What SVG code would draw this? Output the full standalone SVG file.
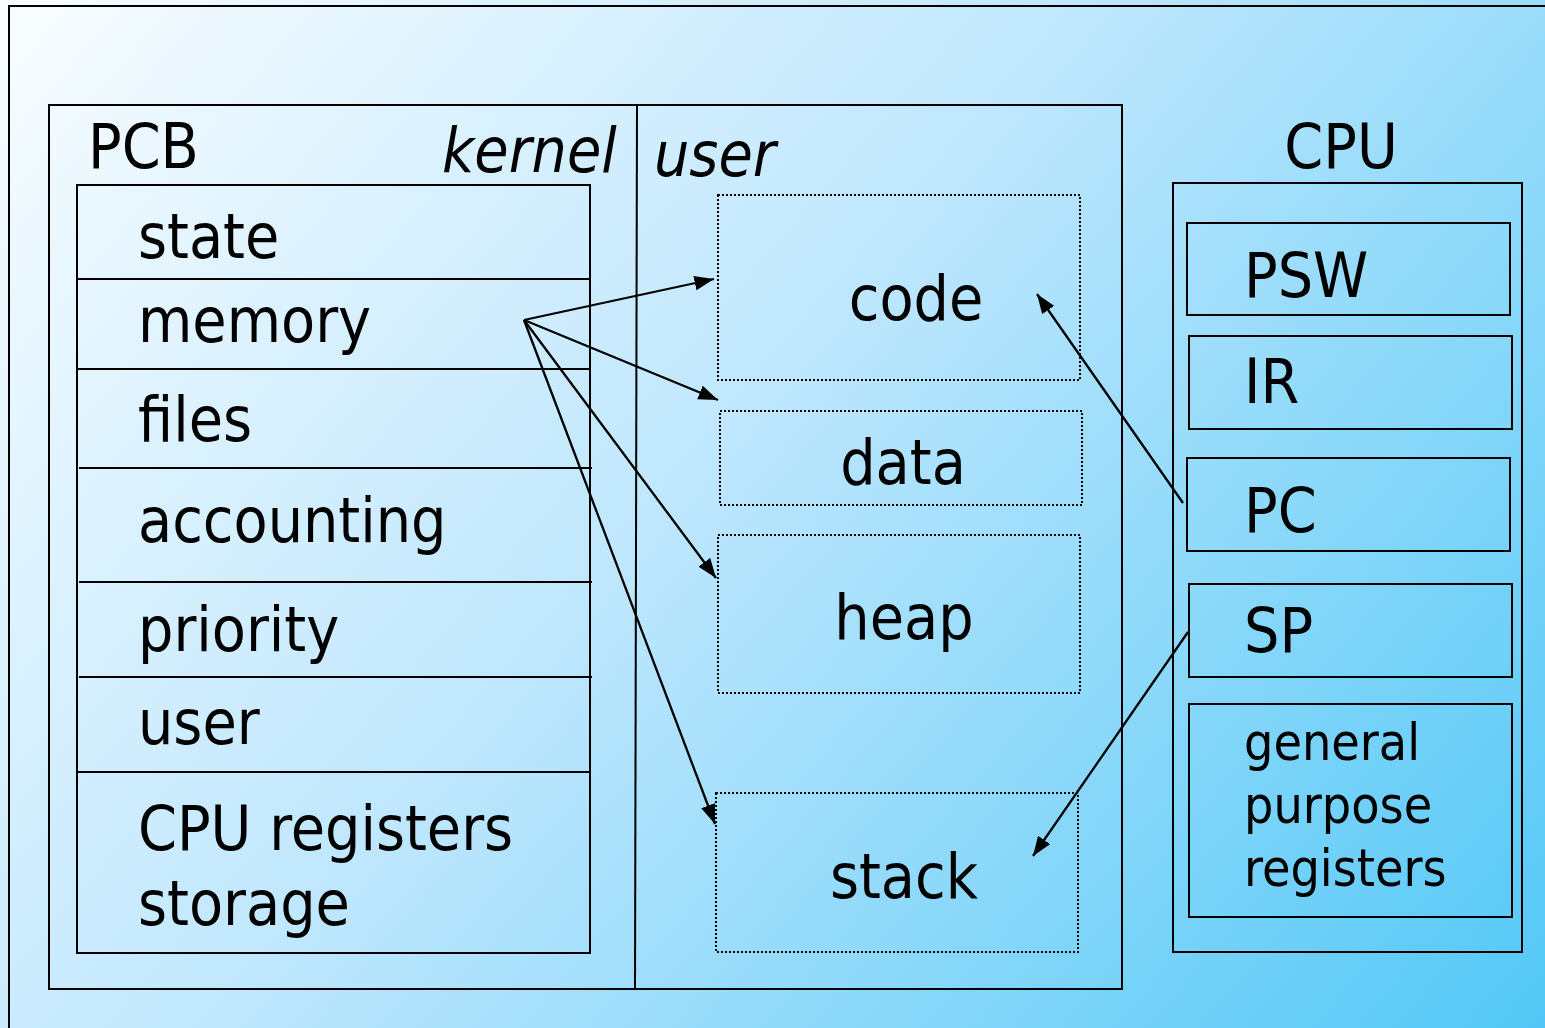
<svg xmlns="http://www.w3.org/2000/svg" width="1545" height="1028" viewBox="0 0 1545 1028">
<defs>
<linearGradient id="bg" gradientUnits="userSpaceOnUse" x1="0" y1="0" x2="1400" y2="1200">
<stop offset="0" stop-color="#f9fdff"/>
<stop offset="0.45" stop-color="#bfe7fd"/>
<stop offset="1" stop-color="#52c8f6"/>
</linearGradient>
<marker id="ah" viewBox="0 0 8 6" refX="8" refY="3" markerWidth="8.5" markerHeight="6.4" orient="auto" markerUnits="strokeWidth">
<path d="M0,0 L8,3 L0,6 z" fill="#000"/>
</marker>
<style>
.box{fill:none;stroke:#000;stroke-width:2}
.dot{fill:none;stroke:#000;stroke-width:2;stroke-dasharray:2 2}
.t{font-family:"DejaVu Sans Condensed","DejaVu Sans",sans-serif;font-stretch:condensed;font-size:62px;fill:#000}
.s{font-size:51.5px}
.i{font-style:italic}
.mid{text-anchor:middle}
.arr{stroke:#000;stroke-width:2.3;fill:none;marker-end:url(#ah)}
</style>
</defs>
<rect x="0" y="0" width="1545" height="1028" fill="url(#bg)"/>
<path d="M9,1030 L9,6 L1547,6" fill="none" stroke="#000" stroke-width="2"/>

<g id="main">
<rect class="box" x="49" y="105" width="1073" height="884"/>
<line x1="637" y1="105" x2="635" y2="989" stroke="#000" stroke-width="2"/>
<text class="t" x="88" y="168">PCB</text>
<text class="t i" x="442" y="172">kernel</text>
<text class="t i" x="654" y="176">user</text>
</g>

<g id="pcb">
<rect class="box" x="77" y="185" width="513" height="768"/>
<line class="box" x1="77" y1="279" x2="590" y2="279"/>
<line class="box" x1="77" y1="369" x2="590" y2="369"/>
<line class="box" x1="79" y1="468" x2="592" y2="468"/>
<line class="box" x1="79" y1="582" x2="592" y2="582"/>
<line class="box" x1="79" y1="677" x2="592" y2="677"/>
<line class="box" x1="77" y1="772" x2="590" y2="772"/>
<text class="t" x="138" y="258">state</text>
<text class="t" x="138" y="342">memory</text>
<text class="t" x="138" y="441">files</text>
<text class="t" x="138" y="542">accounting</text>
<text class="t" x="138" y="651">priority</text>
<text class="t" x="138" y="744">user</text>
<text class="t" x="138" y="850">CPU registers</text>
<text class="t" x="138" y="925">storage</text>
</g>

<g id="code"><rect class="dot" x="718" y="195" width="362" height="185"/><text class="t mid" x="916" y="320">code</text></g>
<g id="data"><rect class="dot" x="720" y="411" width="362" height="94"/><text class="t mid" x="903" y="484">data</text></g>
<g id="heap"><rect class="dot" x="718" y="535" width="362" height="158"/><text class="t mid" x="904" y="639">heap</text></g>
<g id="stack"><rect class="dot" x="716" y="793" width="362" height="159"/><text class="t mid" x="904" y="898">stack</text></g>

<g id="cpu">
<rect class="box" x="1173" y="183" width="349" height="769"/>
<text class="t mid" x="1341" y="168">CPU</text>
</g>
<g id="psw"><rect class="box" x="1187" y="223" width="323" height="92"/><text class="t" x="1244" y="297">PSW</text></g>
<g id="ir"><rect class="box" x="1189" y="336" width="323" height="93"/><text class="t" x="1244" y="403">IR</text></g>
<g id="pc"><rect class="box" x="1187" y="458" width="323" height="93"/><text class="t" x="1244" y="532">PC</text></g>
<g id="sp"><rect class="box" x="1189" y="584" width="323" height="93"/><text class="t" x="1244" y="652">SP</text></g>
<g id="gpr"><rect class="box" x="1189" y="704" width="323" height="213"/>
<text class="t s" x="1244" y="760">general</text>
<text class="t s" x="1244" y="823">purpose</text>
<text class="t s" x="1244" y="886">registers</text>
</g>

<g id="connectors">
<line class="arr" x1="524" y1="320" x2="714" y2="279"/>
<line class="arr" x1="524" y1="320" x2="718" y2="400"/>
<line class="arr" x1="524" y1="320" x2="716" y2="578"/>
<line class="arr" x1="524" y1="320" x2="715" y2="824"/>
<line class="arr" x1="1183" y1="503" x2="1037" y2="294"/>
<line class="arr" x1="1188" y1="632" x2="1033" y2="856"/>
</g>
</svg>
